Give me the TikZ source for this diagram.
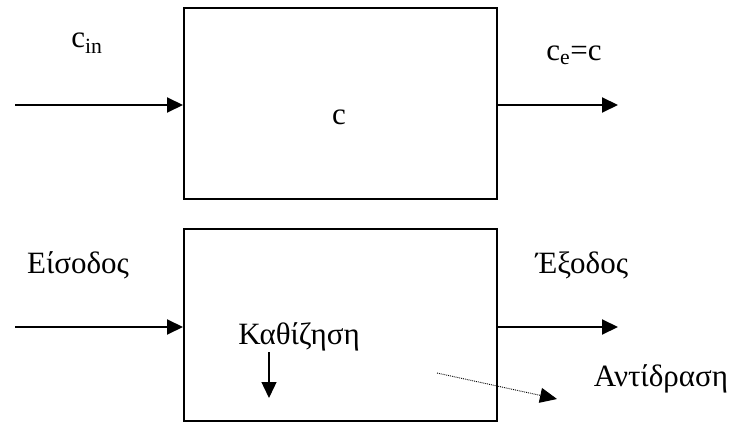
\documentclass[tikz,border=0pt]{standalone}
\usepackage{fontspec}
\setmainfont{Liberation Serif}
\usetikzlibrary{arrows.meta}
\begin{document}
\begin{tikzpicture}[x=1pt,y=-1pt,
  box/.style={draw,line width=2pt,minimum width=313pt,minimum height=191pt,inner sep=0pt},
  flow/.style={line width=2pt,-{Triangle[length=16pt,width=15pt]}},
  lbl/.style={font=\fontsize{31}{34}\selectfont,inner sep=0pt},
  dots/.style={densely dotted,line width=0.9pt,-{Triangle[length=17pt,width=15pt]}}]
\useasboundingbox (0,0) rectangle (739,422);
\node[box] (top) at (340.5,104) {};
\node[box] (bot) at (340.5,325) {};
\node[lbl] (c) at (339,117) {c};
\node[lbl] (cin) at (87,43) {c\textsubscript{in}};
\node[lbl] (ce) at (574,55) {c\textsubscript{e}=c};
\node[lbl] (eis) at (78,265) {Είσοδος};
\node[lbl] (ex) at (582,265) {Έξοδος};
\node[lbl] (kat) at (299,337) {Καθίζηση};
\node[lbl] (ant) at (661,379) {Αντίδραση};
\coordinate (i1) at (15,105);
\coordinate (o1) at (618,105);
\coordinate (i2) at (15,327);
\coordinate (o2) at (618,327);
\coordinate (s1) at (269,352);
\coordinate (s2) at (269,398);
\coordinate (r1) at (437,373);
\coordinate (r2) at (557,399);
\draw[flow] (i1) -- (i1 -| top.west);
\draw[flow] (o1 -| top.east) -- (o1);
\draw[flow] (i2) -- (i2 -| bot.west);
\draw[flow] (o2 -| bot.east) -- (o2);
\draw[flow,line width=1.4pt] (s1) -- (s2);
\draw[dots] (r1) -- (r2);
\end{tikzpicture}
\end{document}
